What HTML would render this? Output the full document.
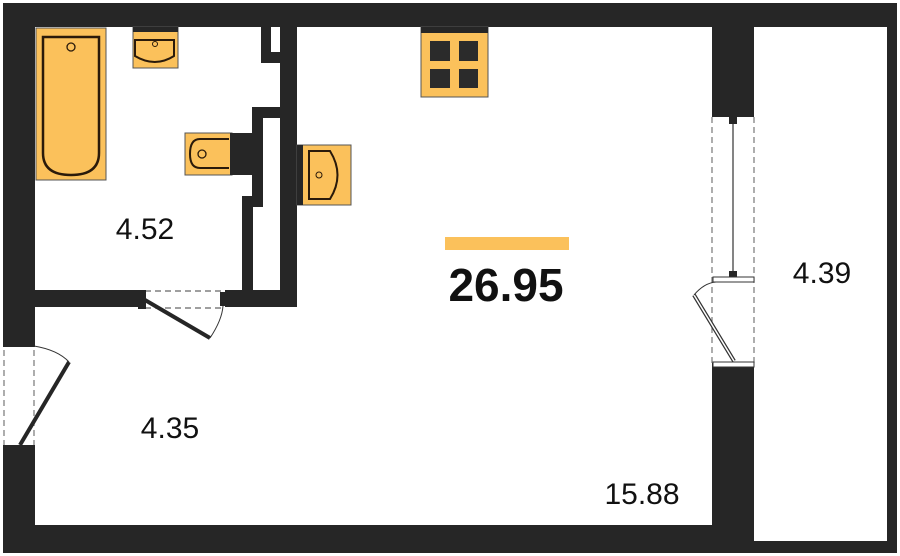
<!DOCTYPE html>
<html><head><meta charset="utf-8"><style>html,body{margin:0;padding:0;background:#fff}svg{display:block}</style></head>
<body>
<svg width="900" height="556" viewBox="0 0 900 556" xmlns="http://www.w3.org/2000/svg" font-family="Liberation Sans, sans-serif">
<rect width="900" height="556" fill="#fff"/>
<g fill="#262626">
<!-- outer walls -->
<rect x="3" y="3" width="894" height="24"/>
<rect x="3" y="3" width="32" height="342"/>
<rect x="3" y="447" width="32" height="106"/>
<rect x="3" y="525" width="750" height="28"/>
<rect x="712" y="3" width="42" height="114"/>
<rect x="712" y="363" width="42" height="190"/>
<rect x="887" y="3" width="10" height="550"/>
<rect x="754" y="541" width="143" height="12"/>
<!-- bathroom walls -->
<rect x="35" y="290" width="110" height="17"/>
<rect x="225" y="290" width="72" height="17"/>
<rect x="280" y="27" width="17" height="280"/>
<rect x="261" y="27" width="19" height="36"/>
<rect x="252" y="107" width="28" height="11"/>
<rect x="252" y="107" width="11" height="100"/>
<rect x="242" y="196" width="11" height="100"/>
<rect x="242" y="196" width="21" height="10"/>
</g>
<rect x="271" y="27" width="9" height="25" fill="#fff"/>
<!-- bathtub -->
<rect x="36" y="28" width="70" height="152" fill="#FBC15B" stroke="#555" stroke-width="1"/>
<path d="M43 37 H99 V153 Q99 175 71 175 Q43 175 43 153 Z" fill="none" stroke="#2a1a0a" stroke-width="2.5"/>
<circle cx="71" cy="47" r="4" fill="none" stroke="#2a1a0a" stroke-width="1.3"/>
<!-- sink top -->
<rect x="133" y="27" width="45" height="41" fill="#FBC15B" stroke="#555"/>
<rect x="133" y="27" width="45" height="5" fill="#262626"/>
<path d="M135 40 H174 V56 Q155 68 135 56 Z" fill="none" stroke="#2a1a0a" stroke-width="2"/>
<circle cx="155" cy="44" r="2.5" fill="none" stroke="#2a1a0a"/>
<!-- toilet -->
<rect x="185" y="133" width="47" height="42" fill="#FBC15B" stroke="#555"/>
<rect x="230" y="133" width="22" height="42" fill="#262626"/>
<path d="M229 139 H200 Q190 139 190 154 Q190 168 200 168 H229" fill="none" stroke="#2a1a0a" stroke-width="2"/>
<circle cx="202" cy="154" r="4" fill="none" stroke="#2a1a0a" stroke-width="1.3"/>
<!-- sink right -->
<rect x="297" y="145" width="54" height="60" fill="#FBC15B" stroke="#555"/>
<rect x="297" y="145" width="6" height="60" fill="#262626"/>
<path d="M309 151 H330 Q345 175 330 199 H309 Z" fill="none" stroke="#2a1a0a" stroke-width="2"/>
<circle cx="319" cy="175" r="3" fill="none" stroke="#2a1a0a"/>
<!-- stove -->
<rect x="421" y="27" width="67" height="70" fill="#FBC15B" stroke="#555"/>
<rect x="421" y="27" width="67" height="6" fill="#262626"/>
<rect x="430" y="41" width="20" height="20" fill="#2b2b2b"/>
<rect x="459" y="41" width="19" height="20" fill="#2b2b2b"/>
<rect x="430" y="69" width="20" height="19" fill="#2b2b2b"/>
<rect x="459" y="69" width="19" height="19" fill="#2b2b2b"/>
<!-- bathroom door -->
<g stroke="#666" stroke-dasharray="6,4" stroke-width="1.2" fill="none">
<line x1="145" y1="291" x2="225" y2="291"/><line x1="145" y1="308" x2="225" y2="308"/>
</g>
<rect x="138" y="290" width="8" height="19" fill="#262626"/>
<rect x="220" y="292" width="8" height="14" fill="#262626"/>
<line x1="145" y1="300" x2="210" y2="338" stroke="#262626" stroke-width="4"/>
<path d="M210 338 Q222 320 223 306" fill="none" stroke="#333" stroke-width="1"/>
<!-- entrance door -->
<g stroke="#777" stroke-dasharray="6,4" stroke-width="1.2" fill="none">
<line x1="4" y1="350" x2="4" y2="445"/><line x1="34" y1="350" x2="34" y2="445"/>
</g>
<rect x="3" y="340" width="32" height="7" fill="#262626"/>
<rect x="3" y="445" width="32" height="7" fill="#262626"/>
<line x1="20" y1="445" x2="69" y2="362" stroke="#262626" stroke-width="4"/>
<path d="M34 346 Q58 350 69 362" fill="none" stroke="#333" stroke-width="1"/>
<!-- balcony window/door -->
<g stroke="#777" stroke-dasharray="6,4" stroke-width="1.2" fill="none">
<line x1="712" y1="117" x2="712" y2="365"/><line x1="754" y1="117" x2="754" y2="365"/>
</g>
<rect x="712" y="111" width="42" height="6" fill="#262626"/>
<rect x="729" y="117" width="8" height="7" fill="#262626"/>
<line x1="733" y1="124" x2="733" y2="273" stroke="#333" stroke-width="1.2"/>
<rect x="729" y="271" width="8" height="6" fill="#262626"/>
<rect x="713" y="277" width="41" height="5" fill="#fff" stroke="#333"/>
<line x1="694" y1="295" x2="734" y2="361" stroke="#333" stroke-width="4"/>
<line x1="694" y1="295" x2="734" y2="361" stroke="#fff" stroke-width="1.5"/>
<path d="M694 295 Q704 283 716 282" fill="none" stroke="#333" stroke-width="1"/>
<rect x="713" y="362" width="41" height="5" fill="#fff" stroke="#333"/>
<!-- labels -->
<rect x="445" y="237" width="124" height="13" fill="#FBC15B"/>
<text x="506" y="301" font-size="46" font-weight="bold" text-anchor="middle" fill="#111">26.95</text>
<g font-size="30" fill="#111" text-anchor="middle">
<text x="145" y="239">4.52</text>
<text x="822" y="283">4.39</text>
<text x="170" y="438">4.35</text>
<text x="642" y="504">15.88</text>
</g>
</svg>
</body></html>
